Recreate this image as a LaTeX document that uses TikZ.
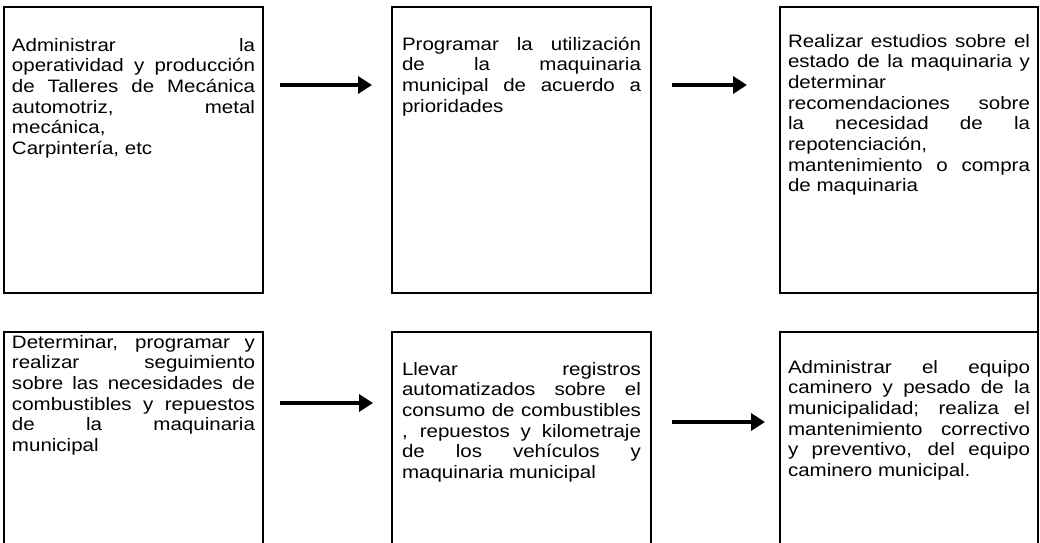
\documentclass[tikz,border=0pt]{standalone}
\usepackage{fontspec}
\setmainfont[FakeStretch=1.14]{Liberation Sans}
\usetikzlibrary{calc,arrows.meta}
\newcommand{\grosor}{2.6pt}
\newcommand{\grosorflecha}{4pt}
\hyphenpenalty=10000
\tolerance=9999
\tikzset{
  caja/.style={draw, rectangle, line width=\grosor, outer sep=0pt, anchor=north west,
    align=justify, inner ysep=0pt, font=\fontsize{18}{20.7}\selectfont},
  flecha/.style={line width=\grosorflecha, -{Triangle[length=14pt,width=17pt]}}
}

\begin{document}
\begin{tikzpicture}[x=1pt,y=-1pt]
\useasboundingbox (0,0) rectangle (1040,542);
\clip (0,0) rectangle (1040,542);
%fila de arriba
\node[caja, text width=243pt, inner xsep=8pt, text height=44pt, text depth=242pt] (1) at (4,7)
  {Administrar la\linebreak
   operatividad y producción\linebreak
   de Talleres de Mecánica\linebreak
   automotriz, metal\linebreak
   mecánica,\hfill\break
   Carpintería, etc};
\node[caja, text width=239pt, inner xsep=10pt, text height=43pt, text depth=243pt] (2) at (392,7)
  {Programar la utilización\linebreak
   de la maquinaria\linebreak
   municipal de acuerdo a\linebreak
   prioridades};
\node[caja, text width=242pt, inner xsep=8pt, text height=40pt, text depth=246pt] (3) at (780,7)
  {Realizar estudios sobre el\linebreak
   estado de la maquinaria y\linebreak
   determinar\hfill\break
   recomendaciones sobre\linebreak
   la necesidad de la\linebreak
   repotenciación,\hfill\break
   mantenimiento o compra\linebreak
   de maquinaria};
%fila de abajo
\node[caja, text width=243pt, inner xsep=8pt, text height=16pt, text depth=240pt] (4) at (4,332)
  {Determinar, programar y\linebreak
   realizar seguimiento\linebreak
   sobre las necesidades de\linebreak
   combustibles y repuestos\linebreak
   de la maquinaria\linebreak
   municipal};
\node[caja, text width=239pt, inner xsep=10pt, text height=43pt, text depth=213pt] (5) at (392,332)
  {Llevar registros\linebreak
   automatizados sobre el\linebreak
   consumo de combustibles\linebreak
   , repuestos y kilometraje\linebreak
   de los vehículos y\linebreak
   maquinaria municipal};
\node[caja, text width=242pt, inner xsep=8pt, text height=41pt, text depth=215pt] (6) at (780,332)
  {Administrar el equipo\linebreak
   caminero y pesado de la\linebreak
   municipalidad; realiza el\linebreak
   mantenimiento correctivo\linebreak
   y preventivo, del equipo\linebreak
   caminero municipal.};
%flechas
\draw[flecha] ($(1.north east)+(17,78)$) -- ($(2.north west)+(-20,78)$);
\draw[flecha] ($(2.north east)+(21,78)$) -- ($(3.north west)+(-33,78)$);
\draw[flecha] ($(4.north east)+(17,71)$) -- ($(5.north west)+(-19,71)$);
\draw[flecha] ($(5.north east)+(21,90)$) -- ($(6.north west)+(-15,90)$);
\draw[line width=\grosor] (3.south east) -- (6.north east);
\end{tikzpicture}
\end{document}
